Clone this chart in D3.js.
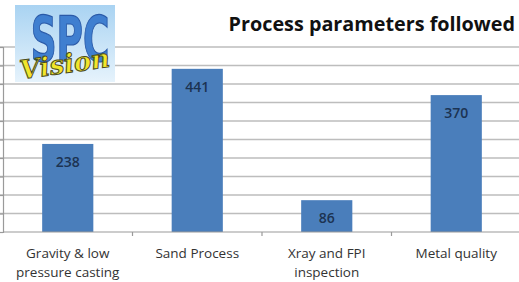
<!DOCTYPE html>
<html>
<head>
<meta charset="utf-8">
<script src="https://cdn.jsdelivr.net/npm/d3@7"></script>
<style>
  body { margin: 0; background: #fff; }
  svg { display: block; font-family: "Open Sans", Lato, sans-serif; }
  .grid line { stroke: #bdbdbd; stroke-width: 1.5; }
  .label { fill: #333; font-size: 13.5px; }
  .value { fill: #1c3352; font-size: 14px; font-weight: 600; }
</style>
</head>
<body>
<div id="chart"></div>
<script>
// chart data
var categories = [["Gravity & low", "pressure casting"], ["Sand Process"], ["Xray and FPI", "inspection"], ["Metal quality"]];
var values = [238, 441, 86, 370];
var gridTicks = [0, 50, 100, 150, 200, 250, 300, 350, 400, 450, 500];
var title = "Process parameters followed";

function init() {
    var w = 519;
    var h = 282;

    var svg = d3.select("#chart")
                .append("svg")
                .attr("width", w)
                .attr("height", h);

    var keys = categories.map(function(c) { return c.join(" "); });

    var xScale = d3.scaleBand()
                   .domain(keys)
                   .range([3, 521])
                   .padding(0.605)
                   .paddingOuter(0.3025);

    var yScale = d3.scaleLinear()
                   .domain([0, 500])
                   .range([232, 47]);

    // horizontal gridlines
    svg.append("g")
       .attr("class", "grid")
       .selectAll("line")
       .data(gridTicks.slice(1))
       .enter()
       .append("line")
       .attr("x1", 0)
       .attr("x2", w)
       .attr("y1", function(d) { return yScale(d); })
       .attr("y2", function(d) { return yScale(d); });

    // left axis with small ticks, no labels
    var yAxis = d3.axisLeft(yScale)
                  .tickValues(gridTicks)
                  .tickSize(3)
                  .tickFormat("");
    var gy = svg.append("g")
                .attr("transform", "translate(3, 0)")
                .call(yAxis);
    gy.selectAll("path, line").attr("stroke", "#9a9a9a").attr("stroke-width", 1.2);

    // bars
    svg.selectAll("rect.bar")
       .data(values)
       .enter()
       .append("rect")
       .attr("class", "bar")
       .attr("x", function(d, i) { return xScale(keys[i]); })
       .attr("y", function(d) { return yScale(d); })
       .attr("width", xScale.bandwidth())
       .attr("height", function(d) { return yScale(0) - yScale(d); })
       .attr("fill", "#4a7ebb");

    // baseline
    svg.append("line")
       .attr("x1", 3).attr("x2", w)
       .attr("y1", yScale(0)).attr("y2", yScale(0))
       .attr("stroke", "#9a9a9a").attr("stroke-width", 1.2);

    // category boundary ticks
    var step = xScale.step();
    svg.selectAll("line.ctick")
       .data(keys.slice(1))
       .enter()
       .append("line")
       .attr("class", "ctick")
       .attr("x1", function(d) { return xScale(d) - step * xScale.paddingInner() / 2; })
       .attr("x2", function(d) { return xScale(d) - step * xScale.paddingInner() / 2; })
       .attr("y1", yScale(0))
       .attr("y2", yScale(0) + 4)
       .attr("stroke", "#9a9a9a").attr("stroke-width", 1.2);

    // value labels inside bars
    svg.selectAll("text.value")
       .data(values)
       .enter()
       .append("text")
       .attr("class", "value")
       .attr("text-anchor", "middle")
       .attr("x", function(d, i) { return xScale(keys[i]) + xScale.bandwidth() / 2; })
       .attr("y", function(d) { return yScale(d) + 23; })
       .text(function(d) { return d; });

    // category labels
    var labels = svg.selectAll("text.label")
                    .data(categories)
                    .enter()
                    .append("text")
                    .attr("class", "label")
                    .attr("text-anchor", "middle")
                    .attr("x", function(d, i) { return xScale(keys[i]) + xScale.bandwidth() / 2; })
                    .attr("y", 258);
    labels.selectAll("tspan")
          .data(function(d) { return d; })
          .enter()
          .append("tspan")
          .attr("x", function() { return this.parentNode.getAttribute("x"); })
          .attr("dy", function(d, i) { return i === 0 ? 0 : 19; })
          .text(function(d) { return d; });

    // title
    svg.append("text")
       .attr("x", 515)
       .attr("y", 31)
       .attr("text-anchor", "end")
       .attr("font-size", "19.8px")
       .attr("font-weight", "bold")
       .attr("fill", "#111")
       .text(title);

    // logo
    var defs = svg.append("defs");
    var grad = defs.append("linearGradient")
                   .attr("id", "logoBg")
                   .attr("x1", 0).attr("y1", 0).attr("x2", 0).attr("y2", 1);
    grad.append("stop").attr("offset", "0%").attr("stop-color", "#a9d3f2");
    grad.append("stop").attr("offset", "100%").attr("stop-color", "#e6f3fc");

    var logo = svg.append("g").attr("transform", "translate(15, 5)");
    logo.append("rect")
        .attr("width", 100).attr("height", 77)
        .attr("fill", "url(#logoBg)");
    // tall condensed "SPC", stretched vertically around its baseline
    logo.append("text")
        .attr("x", 0).attr("y", 0)
        .attr("text-anchor", "middle")
        .attr("font-family", "'DejaVu Sans Condensed', 'Liberation Sans Narrow', sans-serif")
        .attr("font-weight", "bold")
        .attr("font-size", "40px")
        .attr("fill", "#3f7fd0")
        .attr("stroke", "#2a5aa8")
        .attr("stroke-width", 0.8)
        .attr("transform", "translate(55,56) scale(1,1.55)")
        .text("SPC");
    logo.append("text")
        .attr("x", 50).attr("y", 68)
        .attr("text-anchor", "middle")
        .attr("font-family", "'DejaVu Serif', serif")
        .attr("font-style", "italic")
        .attr("font-weight", "bold")
        .attr("font-size", "26px")
        .attr("fill", "#f2e62a")
        .attr("stroke", "#4a4a20")
        .attr("stroke-width", 1)
        .attr("transform", "rotate(-8, 50, 60)")
        .text("Vision");
}

window.onload = init;
</script>
</body>
</html>
